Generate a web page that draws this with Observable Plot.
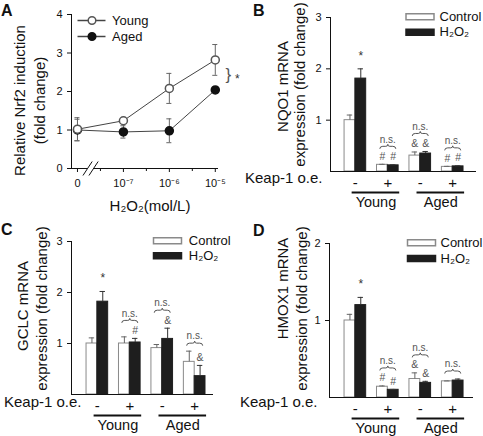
<!DOCTYPE html>
<html>
<head>
<meta charset="utf-8">
<script src="https://cdn.jsdelivr.net/npm/d3@7"></script>
<script src="https://cdn.jsdelivr.net/npm/@observablehq/plot@0.6"></script>
<style>
  html, body { margin: 0; padding: 0; background: #fff; }
  #fig { position: relative; width: 483px; height: 436px; overflow: hidden; font-family: "Liberation Sans", Arial, sans-serif; }
  .panel { position: absolute; }
  .panel svg { display: block; overflow: visible; max-width: none; }
  .letter { position: absolute; font-weight: bold; font-size: 16px; line-height: 16px; color: #111; }
</style>
</head>
<body>
<div id="fig"></div>
<script>
// ---------------- data ----------------
const doseLabels = ["0", "10⁻⁷", "10⁻⁶", "10⁻⁵"];
const nrf2Young = [1.02, 1.24, 2.08, 2.82];
const nrf2YoungErr = [0.30, 0.02, 0.39, 0.40];
const nrf2Aged = [1.00, 0.95, 0.98, 2.04];
const nrf2AgedErr = [0.28, 0.16, 0.31, 0.03];
const seriesA = ["Young", "Aged"];
const sigA = "*";
const xTitleA = "H₂O₂(mol/L)";
const yTitleA = ["Relative Nrf2 induction", "(fold change)"];

const keapLabels = ["-", "+", "-", "+"];
const ageGroups = ["Young", "Aged"];
const conditions = ["Control", "H₂O₂"];
const keapTitle = "Keap-1 o.e.";
const panelLetters = ["A", "B", "C", "D"];

// B: NQO1
const nqo1Control = [1.00, 0.13, 0.31, 0.09];
const nqo1ControlErr = [0.10, 0.01, 0.07, 0.01];
const nqo1H2O2 = [1.81, 0.12, 0.35, 0.10];
const nqo1H2O2Err = [0.19, 0.01, 0.04, 0.01];
const nqo1ControlSig = ["", "#", "&", "#"];
const nqo1H2O2Sig = ["*", "#", "&", "#"];
const nqo1PairSig = ["", "n.s.", "n.s.", "n.s."];

// C: GCLC
const gclcControl = [1.00, 1.00, 0.91, 0.64];
const gclcControlErr = [0.11, 0.13, 0.07, 0.21];
const gclcH2O2 = [1.82, 1.02, 1.09, 0.36];
const gclcH2O2Err = [0.20, 0.08, 0.21, 0.21];
const gclcControlSig = ["", "", "", ""];
const gclcH2O2Sig = ["*", "#", "&", "&"];
const gclcPairSig = ["", "n.s.", "n.s.", "n.s."];

// D: HMOX1
const hmoxControl = [1.00, 0.14, 0.24, 0.21];
const hmoxControlErr = [0.08, 0.01, 0.08, 0.005];
const hmoxH2O2 = [1.20, 0.10, 0.19, 0.22];
const hmoxH2O2Err = [0.10, 0.005, 0.02, 0.02];
const hmoxControlSig = ["", "#", "&", ""];
const hmoxH2O2Sig = ["*", "#", "&", ""];
const hmoxPairSig = ["", "n.s.", "n.s.", "n.s."];

// ---------------- styling helpers ----------------
const FONT = '"Liberation Sans", Arial, sans-serif';
const INK = "#111";
const GREY = "#666";
const BAR_DARK = "#1e1e1e";
const BAR_EDGE = "#8a8a8a";
const intFormat = d3.format("d");

const rectSymbol = {draw(ctx) { ctx.rect(-14, -3, 28, 6); }};
const lineSymbol = {draw(ctx) { ctx.moveTo(-14, 0); ctx.lineTo(14, 0); }};
const braceSymbol = {draw(ctx) {
  ctx.moveTo(-8, 2.5);
  ctx.quadraticCurveTo(-8, 0, -5, 0);
  ctx.lineTo(-2, 0);
  ctx.quadraticCurveTo(0, 0, 0, -2);
  ctx.quadraticCurveTo(0, 0, 2, 0);
  ctx.lineTo(5, 0);
  ctx.quadraticCurveTo(8, 0, 8, 2.5);
}};

function baseStyle() {
  return {fontFamily: FONT, fontSize: "11px", color: INK, background: "transparent", overflow: "visible"};
}

// ---------------- panel A ----------------
function panelA() {
  const L = {width: 240, height: 218, mL: 71, mR: 22, mT: 14, mB: 50};
  const yMax = 4;
  const k = (L.height - L.mT - L.mB) / yMax;
  const xDom = [-0.13, 3.07];
  const breakAt = 0.285;
  const young = doseLabels.map((d, i) => ({i, v: nrf2Young[i], e: nrf2YoungErr[i]}));
  const aged = doseLabels.map((d, i) => ({i, v: nrf2Aged[i], e: nrf2AgedErr[i]}));
  const majorTicks = doseLabels.map((d, i) => i);
  const minorTicks = majorTicks.slice(1).map(i => i - 0.5);
  const axisSegments = [{x1: xDom[0], x2: breakAt - 0.065}, {x1: breakAt + 0.065, x2: xDom[1]}];
  const slashes = [breakAt - 0.065, breakAt + 0.065];
  const caps = rows => rows.flatMap(d => [{i: d.i, y: d.v - d.e}, {i: d.i, y: d.v + d.e}]);
  const legend = (name, j, fill, stroke) => [
    Plot.dot([name], {frameAnchor: "top-left", dx: 20, dy: 6 + 16 * j, symbol: lineSymbol, stroke: "#444", fill: "none"}),
    Plot.dot([name], {frameAnchor: "top-left", dx: 20.5, dy: 6 + 16 * j, r: 3.8, fill, stroke}),
    Plot.text([name], {frameAnchor: "top-left", dx: 40.5, dy: 6 + 16 * j, text: d => d, textAnchor: "start", lineAnchor: "middle", fontSize: 13})
  ];
  return Plot.plot({
    width: L.width, height: L.height,
    marginLeft: L.mL, marginRight: L.mR, marginTop: L.mT, marginBottom: L.mB,
    style: baseStyle(),
    x: {type: "linear", domain: xDom, ticks: majorTicks, tickFormat: i => doseLabels[i], tickSize: 4, tickPadding: 7, label: null},
    y: {domain: [0, yMax], ticks: [0, 1, 2, 3, 4], tickFormat: intFormat, tickSize: 4, tickPadding: 5, line: true, label: null},
    marks: [
      Plot.ruleY(axisSegments, {y: () => 0, x1: "x1", x2: "x2", stroke: INK}),
      Plot.link(slashes, {x1: s => s - 0.1, y1: () => -7 / k, x2: s => s + 0.1, y2: () => 7 / k, stroke: INK}),
      Plot.ruleX(minorTicks, {x: d => d, y1: () => 0, y2: () => -3 / k, stroke: INK}),
      Plot.line(aged, {x: "i", y: "v", stroke: "#444", strokeWidth: 1}),
      Plot.line(young, {x: "i", y: "v", stroke: "#444", strokeWidth: 1}),
      Plot.ruleX(aged, {x: "i", y1: d => d.v - d.e, y2: d => d.v + d.e, stroke: GREY}),
      Plot.ruleY(caps(aged), {y: "y", x1: d => d.i - 0.055, x2: d => d.i + 0.055, stroke: GREY}),
      Plot.ruleX(young, {x: "i", y1: d => d.v - d.e, y2: d => d.v + d.e, stroke: GREY}),
      Plot.ruleY(caps(young), {y: "y", x1: d => d.i - 0.055, x2: d => d.i + 0.055, stroke: GREY}),
      Plot.dot(aged, {x: "i", y: "v", r: 4, fill: "#111", stroke: "#111"}),
      Plot.dot(young, {x: "i", y: "v", r: 4, fill: "white", stroke: "#555"}),
      Plot.text([sigA], {x: () => 3, y: () => (nrf2Young[3] + nrf2Aged[3]) / 2, text: () => "}", dx: 13, fontSize: 17, fill: "#555"}),
      Plot.text([sigA], {x: () => 3, y: () => (nrf2Young[3] + nrf2Aged[3]) / 2, text: d => d, dx: 22, dy: 4, fontSize: 12, fill: "#333"}),
      ...legend(seriesA[0], 0, "white", "#555"),
      ...legend(seriesA[1], 1, "#111", "#111"),
      Plot.text([yTitleA[0]], {frameAnchor: "left", textAnchor: "middle", rotate: -90, dx: -51, dy: 9, text: d => d, fontSize: 15}),
      Plot.text([yTitleA[1]], {frameAnchor: "left", textAnchor: "middle", rotate: -90, dx: -31, dy: 9, text: d => d, fontSize: 15}),
      Plot.text([xTitleA], {frameAnchor: "bottom", dx: 5, dy: 42, text: d => d, fontSize: 15})
    ]
  });
}

// ---------------- bar panels ----------------
function barPanel(cfg) {
  const {L, xDom, yMax, yTicks} = cfg;
  const k = (L.height - L.mT - L.mB) / yMax;
  const rows = [];
  keapLabels.forEach((kl, i) => {
    rows.push({pair: i, cond: conditions[0], x1: 3 * i, x2: 3 * i + 1, value: cfg.ctrl[i], err: cfg.ctrlErr[i], sig: cfg.ctrlSig[i]});
    rows.push({pair: i, cond: conditions[1], x1: 3 * i + 1, x2: 3 * i + 2, value: cfg.h2[i], err: cfg.h2Err[i], sig: cfg.h2Sig[i]});
  });
  rows.forEach(d => { d.c = (d.x1 + d.x2) / 2; d.top = d.value + d.err; });
  const ctrlRows = rows.filter(d => d.cond === conditions[0]);
  const h2Rows = rows.filter(d => d.cond === conditions[1]);
  const pairs = keapLabels.map((kl, i) => {
    const bars = rows.filter(d => d.pair === i);
    const by = d3.max(bars, d => d.top + (d.sig ? 18 : 8) / k);
    return {center: 3 * i + 1, ks: kl, ns: cfg.pairSig[i], by};
  });
  const ages = ageGroups.map((g, gi) => ({group: g, x1: pairs[2 * gi].center - 0.3, x2: pairs[2 * gi + 1].center + 1.1}));
  const symRows = rows.filter(d => d.sig && d.sig !== "*");
  const starRows = rows.filter(d => d.sig === "*");
  const lg = cfg.legend;
  return Plot.plot({
    width: L.width, height: L.height,
    marginLeft: L.mL, marginRight: L.mR, marginTop: L.mT, marginBottom: L.mB,
    style: baseStyle(),
    x: {type: "linear", domain: xDom, axis: null},
    y: {domain: [0, yMax], ticks: yTicks, tickFormat: intFormat, tickSize: 4, tickPadding: 5, line: true, label: null},
    marks: [
      Plot.rect(ctrlRows, {x1: "x1", x2: "x2", y1: () => 0, y2: "value", fill: "white", stroke: BAR_EDGE}),
      Plot.rect(h2Rows, {x1: "x1", x2: "x2", y1: () => 0, y2: "value", fill: BAR_DARK, stroke: BAR_DARK}),
      Plot.ruleX(ctrlRows, {x: "c", y1: "value", y2: "top", stroke: GREY}),
      Plot.ruleY(ctrlRows, {y: "top", x1: d => d.c - 0.25, x2: d => d.c + 0.25, stroke: GREY}),
      Plot.ruleX(h2Rows, {x: "c", y1: "value", y2: "top", stroke: "#333"}),
      Plot.ruleY(h2Rows, {y: "top", x1: d => d.c - 0.25, x2: d => d.c + 0.25, stroke: "#333"}),
      Plot.ruleY([0], {stroke: INK}),
      Plot.text(symRows, {x: "c", y: "top", text: "sig", dy: -8, fontSize: 10.5, fill: "#555"}),
      Plot.text(starRows, {x: "c", y: "top", text: "sig", dy: -13, fontSize: 12, fill: "#333"}),
      Plot.dot(pairs.filter(d => d.ns), {x: "center", y: "by", symbol: braceSymbol, r: 5, stroke: "#555", fill: "none", strokeWidth: 1}),
      Plot.text(pairs.filter(d => d.ns), {x: "center", y: "by", text: "ns", dy: -7, fontSize: 10, fill: "#555"}),
      Plot.text(pairs, {x: "center", y: () => 0, text: "ks", dy: 11.5, fontSize: 15}),
      Plot.ruleY(ages, {y: () => 0, x1: "x1", x2: "x2", dy: 21, stroke: INK, strokeWidth: 2}),
      Plot.text(ages, {x: d => (d.x1 + d.x2) / 2, y: () => 0, text: "group", dy: 31, fontSize: 14.5}),
      Plot.text([keapTitle], {frameAnchor: "bottom-left", textAnchor: "end", dx: cfg.keap.dx, dy: cfg.keap.dy, text: d => d, fontSize: 15}),
      Plot.text([cfg.ylab[0]], {frameAnchor: "left", textAnchor: "middle", rotate: -90, dx: cfg.ylabDx[0], dy: cfg.ylabDy[0], text: d => d, fontSize: 15}),
      Plot.text([cfg.ylab[1]], {frameAnchor: "left", textAnchor: "middle", rotate: -90, dx: cfg.ylabDx[1], dy: cfg.ylabDy[1], text: d => d, fontSize: 15}),
      Plot.dot([conditions[0]], {frameAnchor: "top-right", dx: lg.rectDx, dy: lg.dy1, symbol: rectSymbol, fill: "white", stroke: BAR_EDGE}),
      Plot.dot([conditions[1]], {frameAnchor: "top-right", dx: lg.rectDx, dy: lg.dy2, symbol: rectSymbol, fill: BAR_DARK, stroke: BAR_DARK}),
      Plot.text([conditions[0]], {frameAnchor: "top-right", dx: lg.textDx, dy: lg.dy1, text: d => d, textAnchor: "start", lineAnchor: "middle", fontSize: 13}),
      Plot.text([conditions[1]], {frameAnchor: "top-right", dx: lg.textDx, dy: lg.dy2, text: d => d, textAnchor: "start", lineAnchor: "middle", fontSize: 13})
    ]
  });
}

const plotB = barPanel({
  L: {width: 243, height: 218, mL: 90, mR: 7, mT: 17, mB: 47},
  xDom: [-1.3, 12.2], yMax: 3, yTicks: [1, 2, 3],
  ctrl: nqo1Control, ctrlErr: nqo1ControlErr, h2: nqo1H2O2, h2Err: nqo1H2O2Err,
  ctrlSig: nqo1ControlSig, h2Sig: nqo1H2O2Sig, pairSig: nqo1PairSig,
  ylab: ["NQO1 mRNA", "expression (fold change)"], ylabDx: [-47, -30], ylabDy: [-8, -10],
  keap: {dx: -8, dy: 11.5},
  legend: {rectDx: -56.5, textDx: -37, dy1: -0.8, dy2: 14.8}
});
const plotC = barPanel({
  L: {width: 240, height: 218, mL: 71, mR: 27, mT: 23, mB: 42},
  xDom: [-1.39, 11.74], yMax: 3, yTicks: [1, 2, 3],
  ctrl: gclcControl, ctrlErr: gclcControlErr, h2: gclcH2O2, h2Err: gclcH2O2Err,
  ctrlSig: gclcControlSig, h2Sig: gclcH2O2Sig, pairSig: gclcPairSig,
  ylab: ["GCLC mRNA", "expression (fold change)"], ylabDx: [-48, -29], ylabDy: [-12, -9.5],
  keap: {dx: 10, dy: 12.5},
  legend: {rectDx: -46, textDx: -24.7, dy1: -0.8, dy2: 14.2}
});
const plotD = barPanel({
  L: {width: 243, height: 218, mL: 89, mR: 10, mT: 25, mB: 39},
  xDom: [-1.39, 11.92], yMax: 2, yTicks: [1, 2],
  ctrl: hmoxControl, ctrlErr: hmoxControlErr, h2: hmoxH2O2, h2Err: hmoxH2O2Err,
  ctrlSig: hmoxControlSig, h2Sig: hmoxH2O2Sig, pairSig: hmoxPairSig,
  ylab: ["HMOX1 mRNA", "expression (fold change)"], ylabDx: [-46.5, -27.5], ylabDy: [-32, -12],
  keap: {dx: -12, dy: 9.5},
  legend: {rectDx: -52, textDx: -33, dy1: -0.8, dy2: 15}
});

// ---------------- layout ----------------
const fig = document.getElementById("fig");
const placements = [
  {plot: panelA(), left: 0, top: 0, w: 240, letter: [1, 2.5]},
  {plot: plotB, left: 240, top: 0, w: 243, letter: [253, 2.5]},
  {plot: plotC, left: 0, top: 218, w: 240, letter: [1, 221.5]},
  {plot: plotD, left: 240, top: 218, w: 243, letter: [253, 222.5]}
];
placements.forEach((p, i) => {
  const div = document.createElement("div");
  div.className = "panel";
  div.style.left = p.left + "px";
  div.style.top = p.top + "px";
  div.style.width = p.w + "px";
  div.appendChild(p.plot);
  fig.appendChild(div);
  const lt = document.createElement("div");
  lt.className = "letter";
  lt.style.left = p.letter[0] + "px";
  lt.style.top = p.letter[1] + "px";
  lt.textContent = panelLetters[i];
  fig.appendChild(lt);
});
</script>
</body>
</html>
